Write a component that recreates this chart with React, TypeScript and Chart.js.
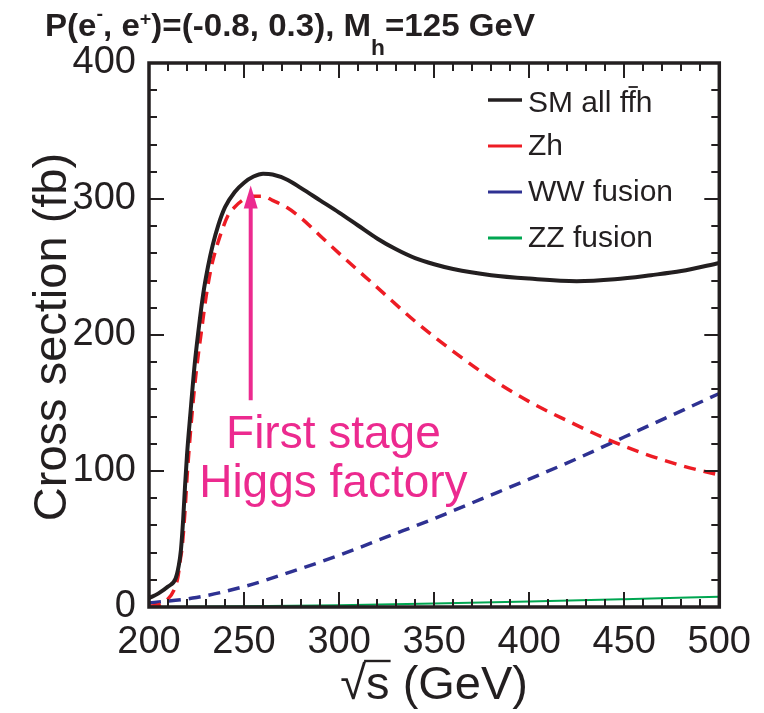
import React, { useEffect, useRef } from "react";
import { Chart, registerables } from "chart.js";

Chart.register(...registerables);

// ---- data ----
const sqrtS_SM = [200, 205, 210, 214, 215.6, 216.8, 218, 219, 220, 221.7, 224, 226, 228.5, 231, 233.5, 236.5, 240, 245, 250, 255, 260, 265, 273, 280, 290, 300, 310, 320, 330, 340, 350, 360, 380, 400, 425, 445, 464, 480, 500];
const sigma_SM = [6.5, 10, 15, 21, 30, 42, 65, 90, 112, 141, 178, 203, 230, 250, 266, 281, 294, 305, 312, 316.5, 318.5, 318, 314, 308, 299, 290, 280.5, 271, 263, 256.5, 252, 248.5, 244, 241.5, 239.6, 241, 244, 247, 253];

const sqrtS_Zh = [200, 205, 210, 213, 215.2, 216.5, 217.5, 219, 220, 222.5, 225, 227.6, 230, 232.8, 235.4, 241.6, 245, 250.3, 255, 260, 265, 272.8, 280, 290, 300, 320, 340, 360, 380, 400, 420, 440, 460, 480, 500];
const sigma_Zh = [0.5, 1.5, 6, 12, 22, 35, 45, 72, 95, 140, 175, 203, 228, 250, 264, 288, 294, 300, 302, 302, 299, 293.5, 286, 273, 260, 235, 210, 188, 168, 151, 137, 124, 113, 104, 97];

const sqrtS_WW = [200, 225, 250, 275, 300, 325, 350, 375, 400, 425, 450, 475, 500];
const sigma_WW = [3, 7, 15, 26, 38, 51.5, 65, 79.5, 94, 109, 125, 141, 157];

const sqrtS_ZZ = [200, 250, 300, 350, 400, 450, 500];
const sigma_ZZ = [0, 0.5, 1.3, 2.5, 4, 5.7, 7.5];

const seriesLabels = ["SM all ffh", "Zh", "WW fusion", "ZZ fusion"];
const seriesColors = ["#231f20", "#ed1c24", "#2e3192", "#00a651"];

const xMin = 200, xMax = 500, xStep = 50, xMinorStep = 10;
const yMin = 0, yMax = 400, yStep = 100, yMinorStep = 20;

const annotationLines = ["First stage", "Higgs factory"];
const arrowS = 253.5, arrowFrom = 152, arrowTo = 310;

const FONT = "'Liberation Sans', Arial, Helvetica, sans-serif";
const INK = "#231f20";
const PINK = "#ec2a8f";

const toPts = (xs: number[], ys: number[]) => xs.map((x, i) => ({ x, y: ys[i] }));

const decor = {
  id: "decor",
  afterDatasetsDraw(chart: any) {
    const { ctx, chartArea: a, scales } = chart;
    const x = scales.x, y = scales.y;
    ctx.save();

    // tick marks (inside, all four sides)
    ctx.strokeStyle = INK;
    ctx.lineWidth = 2;
    ctx.beginPath();
    for (let v = xMin; v <= xMax; v += xMinorStep) {
      const px = Math.round(x.getPixelForValue(v));
      const len = v % xStep === 0 ? 15 : 8;
      ctx.moveTo(px, a.bottom); ctx.lineTo(px, a.bottom - len);
      ctx.moveTo(px, a.top); ctx.lineTo(px, a.top + len);
    }
    for (let v = yMin; v <= yMax; v += yMinorStep) {
      const py = Math.round(y.getPixelForValue(v));
      const len = v % yStep === 0 ? 15 : 8;
      ctx.moveTo(a.left, py); ctx.lineTo(a.left + len, py);
      ctx.moveTo(a.right, py); ctx.lineTo(a.right - len, py);
    }
    ctx.stroke();

    // frame
    ctx.lineWidth = 3.5;
    ctx.strokeRect(a.left, a.top, a.right - a.left, a.bottom - a.top);

    // legend
    const legX0 = 488, legX1 = 522, legTextX = 528;
    const legY = [100, 146, 192, 238];
    ctx.font = `30px ${FONT}`;
    ctx.textBaseline = "middle";
    ctx.textAlign = "left";
    seriesLabels.forEach((lab, i) => {
      ctx.strokeStyle = seriesColors[i];
      ctx.lineWidth = i === 0 ? 3.5 : 3;
      ctx.beginPath();
      ctx.moveTo(legX0, legY[i]);
      ctx.lineTo(legX1, legY[i]);
      ctx.stroke();
      ctx.fillStyle = INK;
      const ty = legY[i] + (i === 0 ? 4 : 1);
      ctx.fillText(lab, legTextX, ty);
      if (i === 0) {
        // overbar on the second f
        const w0 = ctx.measureText("SM all f").width;
        const wf = ctx.measureText("f").width;
        ctx.lineWidth = 1.8;
        ctx.strokeStyle = INK;
        ctx.beginPath();
        ctx.moveTo(legTextX + w0 + 0.5, ty - 17);
        ctx.lineTo(legTextX + w0 + wf + 1.5, ty - 17);
        ctx.stroke();
      }
    });

    // annotation arrow
    const ax = x.getPixelForValue(arrowS);
    const ay0 = y.getPixelForValue(arrowFrom);
    const ay1 = y.getPixelForValue(arrowTo);
    ctx.strokeStyle = PINK;
    ctx.fillStyle = PINK;
    ctx.lineWidth = 4;
    ctx.beginPath();
    ctx.moveTo(ax, ay0);
    ctx.lineTo(ax, ay1 + 18);
    ctx.stroke();
    ctx.beginPath();
    ctx.moveTo(ax, ay1);
    ctx.lineTo(ax - 7, ay1 + 23);
    ctx.lineTo(ax + 7, ay1 + 23);
    ctx.closePath();
    ctx.fill();

    // annotation text
    ctx.font = `46px ${FONT}`;
    ctx.textAlign = "center";
    ctx.textBaseline = "alphabetic";
    ctx.fillText(annotationLines[0], x.getPixelForValue(297), y.getPixelForValue(117));
    ctx.fillText(annotationLines[1], x.getPixelForValue(297), y.getPixelForValue(81));

    // y axis title
    ctx.fillStyle = INK;
    ctx.save();
    ctx.translate(66, (a.top + a.bottom) / 2 + 2);
    ctx.rotate(-Math.PI / 2);
    ctx.font = `47px ${FONT}`;
    ctx.textAlign = "center";
    ctx.textBaseline = "alphabetic";
    ctx.fillText("Cross section (fb)", 0, 0);
    ctx.restore();

    // x title with radical
    ctx.font = `47px ${FONT}`;
    ctx.textAlign = "left";
    ctx.textBaseline = "alphabetic";
    const p1 = "\u221A", p2 = "s", p3 = " (GeV)";
    const w1 = ctx.measureText(p1).width, w2 = ctx.measureText(p2).width, w3 = ctx.measureText(p3).width;
    const tot = w1 + w2 + w3;
    const cx = (a.left + a.right) / 2;
    const bx = cx - tot / 2;
    const by = 699;
    ctx.fillText(p1, bx, by);
    ctx.fillText(p2, bx + w1, by);
    ctx.fillText(p3, bx + w1 + w2, by);
    ctx.lineWidth = 2.4;
    ctx.strokeStyle = INK;
    ctx.beginPath();
    ctx.moveTo(bx + w1 - 2, by - 38);
    ctx.lineTo(bx + w1 + w2 + 1, by - 38);
    ctx.stroke();

    // title
    const runs: [string, string, number][] = [
      ["P(e", "n", 0],
      ["-", "sup", -16],
      [", e", "n", 0],
      ["+", "sup", -11],
      [")=(-0.8, 0.3), M", "n", 0],
      ["h", "sub", 19],
      ["=125 GeV", "n", 0],
    ];
    const fontFor = (k: string) => (k === "n" ? `bold 32px ${FONT}` : k === "sup" ? `bold 19px ${FONT}` : `bold 22px ${FONT}`);
    let total = 0;
    runs.forEach(([t, k]) => { ctx.font = fontFor(k); total += ctx.measureText(t).width; });
    const targetW = 490;
    const sx = targetW / total;
    ctx.save();
    ctx.translate(45, 36);
    ctx.scale(sx, 1);
    let cxx = 0;
    ctx.textAlign = "left";
    runs.forEach(([t, k, dy]) => {
      ctx.font = fontFor(k);
      ctx.fillText(t, cxx, dy);
      cxx += ctx.measureText(t).width;
    });
    ctx.restore();

    ctx.restore();
  },
};

export default function App() {
  const ref = useRef<HTMLCanvasElement | null>(null);
  useEffect(() => {
    if (!ref.current) return;
    const chart = new Chart(ref.current, {
      type: "line",
      data: {
        datasets: [
          { label: seriesLabels[0], data: toPts(sqrtS_SM, sigma_SM), borderColor: seriesColors[0], borderWidth: 4, pointRadius: 0, cubicInterpolationMode: "monotone" },
          { label: seriesLabels[1], data: toPts(sqrtS_Zh, sigma_Zh), borderColor: seriesColors[1], borderWidth: 3.5, borderDash: [12, 8], pointRadius: 0, cubicInterpolationMode: "monotone" },
          { label: seriesLabels[2], data: toPts(sqrtS_WW, sigma_WW), borderColor: seriesColors[2], borderWidth: 3.5, borderDash: [12, 8], pointRadius: 0, cubicInterpolationMode: "monotone" },
          { label: seriesLabels[3], data: toPts(sqrtS_ZZ, sigma_ZZ), borderColor: seriesColors[3], borderWidth: 2, pointRadius: 0, cubicInterpolationMode: "monotone" },
        ],
      } as any,
      options: {
        animation: false,
        responsive: false,
        devicePixelRatio: 1,
        layout: { padding: { top: 63, right: 37, left: 0, bottom: 0 } },
        plugins: { legend: { display: false }, tooltip: { enabled: false }, title: { display: false } },
        scales: {
          x: {
            type: "linear",
            min: xMin,
            max: xMax,
            grid: { display: false, drawTicks: false, tickLength: 0 },
            border: { display: false },
            ticks: { stepSize: xStep, color: INK, font: { family: FONT, size: 38 }, padding: 13, maxRotation: 0, autoSkip: false },
            afterFit: (s: any) => { s.height = 106; },
          },
          y: {
            type: "linear",
            min: yMin,
            max: yMax,
            grid: { display: false, drawTicks: false, tickLength: 0 },
            border: { display: false },
            ticks: { stepSize: yStep, color: INK, font: { family: FONT, size: 38 }, padding: 13 },
            afterFit: (s: any) => { s.width = 149; },
          },
        },
      } as any,
      plugins: [decor],
    });
    return () => chart.destroy();
  }, []);
  return (
    <canvas
      ref={ref}
      width={764}
      height={713}
      style={{ position: "absolute", left: 0, top: 0, width: 764, height: 713 }}
    />
  );
}
